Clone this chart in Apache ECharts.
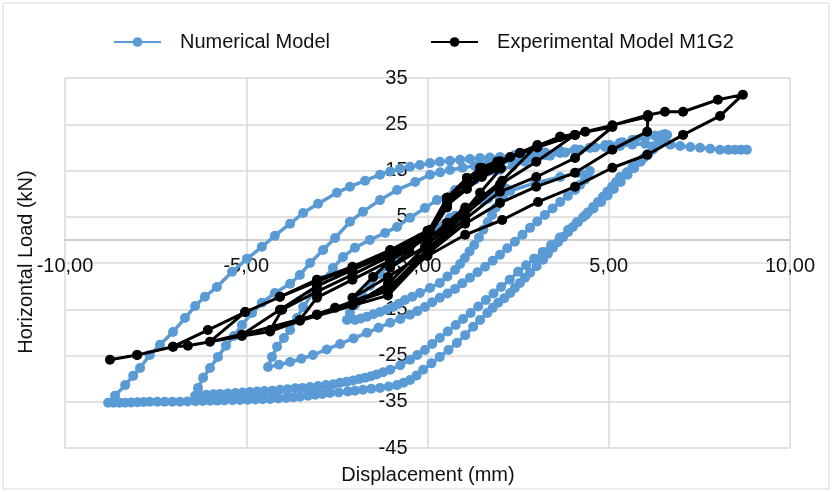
<!DOCTYPE html>
<html>
<head>
<meta charset="utf-8">
<script src="https://cdn.jsdelivr.net/npm/echarts@6/dist/echarts.min.js"></script>
<style>
  html, body { margin: 0; padding: 0; background: #fff; }
  #chart { width: 834px; height: 492px; }
</style>
</head>
<body>
<div id="chart"></div>
<script>
// displacement (mm), load (kN)
var numericalModel = [
  [0.00, 0.0], [0.21, 1.7], [0.48, 3.5], [0.76, 5.2], [1.09, 6.9], [1.45, 8.6], [1.86, 10.2], [2.19, 11.0],
  [2.10, 9.8], [2.00, 8.6], [1.89, 7.0], [1.78, 5.4], [1.66, 3.8], [1.54, 2.2], [1.42, 0.5], [1.29, -1.1],
  [1.16, -2.5], [1.03, -3.9], [0.90, -5.2], [0.76, -6.5], [0.55, -7.9], [0.34, -9.3], [0.07, -10.4],
  [-0.21, -11.5], [-0.42, -12.3], [-0.62, -13.0], [-0.79, -13.8], [-0.95, -14.5], [-1.13, -15.1],
  [-1.31, -15.6], [-1.49, -16.1], [-1.67, -16.6], [-1.84, -17.0], [-2.00, -17.3], [-2.22, -17.3],
  [-2.14, -15.8], [-2.00, -14.1], [-1.81, -12.1], [-1.59, -9.9], [-1.31, -7.4], [-0.98, -4.8], [-0.62, -2.2],
  [-0.21, 0.4], [0.21, 2.6], [0.62, 4.8], [1.12, 6.9], [1.67, 8.9], [2.28, 10.6], [2.97, 12.3], [3.66, 13.6],
  [4.16, 14.5], [4.48, 14.9],
  [4.42, 14.0], [4.34, 13.0], [4.21, 11.9], [4.07, 10.8], [3.87, 9.5], [3.66, 8.2], [3.45, 6.8], [3.24, 5.4],
  [3.03, 4.0], [2.83, 2.6], [2.62, 1.1], [2.41, -0.4], [2.20, -1.8], [2.00, -3.2], [1.80, -4.5], [1.59, -5.8],
  [1.38, -7.0], [1.17, -8.2], [0.96, -9.4], [0.76, -10.6], [0.55, -11.6], [0.34, -12.5], [0.13, -13.5],
  [-0.07, -14.5], [-0.28, -15.4], [-0.48, -16.2], [-0.75, -17.1], [-1.03, -17.9], [-1.35, -19.0],
  [-1.67, -20.1], [-2.04, -21.3], [-2.41, -22.5], [-2.78, -23.7], [-3.16, -24.9], [-3.48, -25.7],
  [-3.79, -26.4], [-4.10, -27.0], [-4.40, -27.5],
  [-4.29, -25.3], [-4.15, -23.1], [-3.96, -21.2], [-3.79, -19.5], [-3.60, -16.9], [-3.43, -14.5], [-3.16, -11.5],
  [-2.88, -8.6], [-2.61, -6.1], [-2.33, -3.7], [-2.00, -1.7], [-1.59, 0.0], [-1.17, 1.5], [-0.84, 2.8],
  [-0.48, 4.8], [-0.07, 6.9], [0.26, 8.6], [0.76, 10.8], [1.31, 13.0], [2.00, 15.1], [2.35, 16.0], [2.69, 16.9],
  [3.03, 17.6], [3.38, 18.2], [3.80, 18.9], [4.21, 19.5], [4.62, 20.0], [5.03, 20.5], [5.38, 21.1], [5.72, 21.6],
  [6.00, 22.1], [6.28, 22.5], [6.45, 22.6], [6.61, 22.7],
  [6.55, 22.2], [6.48, 21.6], [6.35, 20.5], [6.21, 19.5], [6.05, 18.2], [5.88, 16.9], [5.70, 15.5], [5.52, 14.1],
  [5.33, 12.5], [5.14, 11.0], [4.97, 9.6], [4.79, 8.2], [4.58, 6.8], [4.37, 5.4], [4.12, 3.8], [3.88, 2.2],
  [3.65, 0.5], [3.41, -1.1], [3.18, -2.6], [2.94, -4.1], [2.72, -5.5], [2.50, -6.9], [2.27, -8.6], [2.03, -10.2],
  [1.82, -11.6], [1.61, -13.0], [1.40, -14.4], [1.19, -15.8], [0.98, -17.1], [0.78, -18.4], [0.56, -19.8],
  [0.34, -21.2], [0.13, -22.5], [-0.07, -23.8], [-0.28, -24.9], [-0.48, -25.9], [-0.75, -27.1], [-1.03, -28.1],
  [-1.22, -28.6], [-1.40, -29.1], [-1.56, -29.5], [-1.72, -29.8], [-1.88, -30.1], [-2.05, -30.4], [-2.23, -30.7],
  [-2.41, -30.9], [-2.60, -31.2], [-2.80, -31.4], [-3.02, -31.6], [-3.24, -31.8], [-3.45, -32.0], [-3.65, -32.1],
  [-3.86, -32.3], [-4.07, -32.4], [-4.28, -32.6], [-4.50, -32.7], [-4.70, -32.8], [-4.90, -32.9], [-5.10, -33.0],
  [-5.30, -33.1], [-5.51, -33.2], [-5.72, -33.3], [-5.91, -33.4], [-6.10, -33.5], [-6.26, -33.6], [-6.41, -33.7],
  [-6.33, -32.0], [-6.19, -29.8], [-6.00, -27.7], [-5.78, -25.3], [-5.56, -22.9], [-5.34, -20.8], [-5.12, -18.4],
  [-4.84, -15.8], [-4.57, -13.6], [-4.21, -11.5], [-3.79, -9.5], [-3.52, -7.6], [-3.24, -5.0], [-2.88, -2.2],
  [-2.55, 0.4], [-2.14, 3.9], [-1.78, 6.1], [-1.31, 8.6], [-0.84, 10.8], [-0.34, 12.5], [0.07, 14.1],
  [0.35, 14.6], [0.62, 15.1], [0.97, 15.6], [1.31, 16.0], [1.65, 16.3], [2.00, 16.6], [2.41, 17.2], [2.83, 17.7],
  [3.25, 18.3], [3.66, 18.8], [4.07, 19.4], [4.48, 19.9], [4.90, 20.5], [5.31, 21.0], [5.65, 21.6], [6.00, 22.1],
  [6.28, 22.5], [6.55, 22.9],
  [6.48, 22.0], [6.41, 21.2], [6.25, 19.8], [6.10, 18.6], [5.95, 17.6], [5.80, 16.8], [5.65, 15.7], [5.50, 14.6],
  [5.31, 13.6], [5.20, 12.5], [5.09, 11.5], [4.96, 10.4], [4.84, 9.3], [4.70, 8.2], [4.57, 7.1], [4.43, 6.0],
  [4.29, 4.9], [4.15, 3.8], [4.01, 2.8], [3.88, 1.7], [3.74, 0.6], [3.60, -0.5], [3.46, -1.7], [3.32, -3.0],
  [3.19, -4.3], [3.01, -5.7], [2.83, -7.1], [2.69, -8.2], [2.55, -9.3], [2.41, -10.4], [2.28, -11.5],
  [2.12, -12.6], [1.95, -13.6], [1.80, -14.7], [1.65, -15.8], [1.45, -17.3], [1.26, -18.8], [1.04, -20.6],
  [0.81, -22.3], [0.58, -23.8], [0.34, -25.3], [0.11, -26.7], [-0.12, -28.1], [-0.30, -29.3], [-0.48, -30.3],
  [-0.66, -30.9], [-0.84, -31.4], [-1.07, -31.7], [-1.31, -32.0], [-1.55, -32.2], [-1.78, -32.4], [-2.00, -32.6],
  [-2.20, -32.8], [-2.45, -33.0], [-2.69, -33.1], [-2.90, -33.3], [-3.10, -33.5], [-3.30, -33.7], [-3.52, -33.9],
  [-3.70, -34.0], [-3.90, -34.2], [-4.12, -34.3], [-4.34, -34.4], [-4.55, -34.45], [-4.75, -34.5], [-4.96, -34.55],
  [-5.17, -34.6], [-5.38, -34.65], [-5.60, -34.7], [-5.80, -34.75], [-6.00, -34.8], [-6.20, -34.85], [-6.40, -34.9],
  [-6.62, -34.95], [-6.83, -35.0], [-7.04, -35.0], [-7.25, -35.0], [-7.45, -35.0], [-7.66, -35.0], [-7.83, -35.05],
  [-8.00, -35.1], [-8.17, -35.15], [-8.34, -35.2], [-8.50, -35.2], [-8.66, -35.2], [-8.81, -35.2],
  [-8.62, -33.7], [-8.34, -31.4], [-8.12, -29.4], [-7.93, -27.7], [-7.66, -24.9], [-7.38, -22.7], [-7.02, -19.9],
  [-6.69, -16.9], [-6.41, -14.3], [-6.14, -12.3], [-5.81, -10.2], [-5.39, -6.9], [-4.98, -4.1], [-4.57, -1.5],
  [-4.21, 0.9], [-3.79, 3.5], [-3.43, 5.8], [-3.02, 7.8], [-2.50, 10.2], [-2.14, 11.5], [-1.72, 12.8],
  [-1.31, 14.1], [-1.03, 14.8], [-0.76, 15.4], [-0.48, 15.8], [-0.21, 16.2], [0.07, 16.6], [0.34, 16.9],
  [0.62, 17.1], [0.90, 17.3], [1.17, 17.5], [1.45, 17.7], [1.72, 17.8], [2.00, 17.9],
  [2.40, 18.3], [2.83, 18.6], [3.25, 18.9], [3.66, 19.2], [4.07, 19.6], [4.48, 19.9], [4.90, 20.1], [5.31, 20.3],
  [5.65, 20.6], [6.00, 20.8], [6.41, 21.0], [6.70, 20.6], [6.97, 20.3], [7.25, 20.1], [7.52, 19.9], [7.80, 19.7],
  [8.07, 19.5], [8.30, 19.5], [8.48, 19.5], [8.65, 19.5], [8.81, 19.5]
];

var experimentalModel = [
  [0.00, 0.0], [0.54, 3.7], [1.04, 7.0], [0.50, 2.5], [-0.07, -1.5], [-1.03, -6.0], [-0.50, -2.5], [0.07, 2.2],
  [0.54, 7.5], [1.09, 11.0], [1.50, 13.6], [2.03, 15.5], [1.45, 10.2], [1.00, 6.0], [0.50, 2.0], [0.07, -2.2],
  [-1.09, -8.0], [-2.07, -12.5], [-1.50, -8.0], [-1.03, -4.5], [-0.50, -1.0], [0.00, 1.5],
  [0.54, 8.6], [1.09, 12.5], [2.00, 17.0], [3.03, 20.5], [2.06, 12.8], [1.04, 6.5], [0.00, -1.0], [-1.09, -9.5],
  [-2.07, -14.1], [-3.52, -17.3], [-3.05, -12.5], [-2.07, -8.6], [-1.03, -4.5], [0.00, 0.5],
  [0.54, 9.1], [1.45, 15.6], [2.28, 17.9], [3.03, 20.1], [4.07, 22.7], [3.00, 16.9], [2.00, 12.0], [1.04, 5.5],
  [0.00, -2.0], [-1.03, -10.2], [-2.55, -14.7], [-4.34, -19.5], [-4.01, -15.1], [-3.05, -11.2], [-2.07, -7.5],
  [-1.03, -3.5], [0.00, 1.0],
  [0.54, 8.0], [1.50, 14.0], [2.55, 18.8], [3.66, 22.3], [5.10, 24.4], [4.07, 17.7], [3.00, 13.6], [2.00, 10.4],
  [1.04, 4.5], [0.00, -2.5], [-1.09, -11.0], [-3.05, -16.2], [-5.12, -20.5], [-4.07, -15.1], [-3.05, -10.0],
  [-2.07, -6.5], [-1.03, -3.0], [0.00, 0.5],
  [0.54, 7.0], [1.09, 13.4], [1.92, 16.9], [3.03, 20.0], [4.35, 23.4], [6.08, 26.6], [6.06, 23.4], [5.10, 19.5],
  [4.07, 14.5], [3.00, 11.5], [2.00, 8.0], [1.04, 3.5], [0.00, -3.0], [-1.09, -12.0], [-3.52, -17.5],
  [-6.00, -22.0], [-5.03, -15.6], [-4.07, -12.3], [-3.05, -9.0], [-2.07, -6.0], [-1.03, -2.5], [0.00, 1.5],
  [0.54, 9.1], [1.09, 13.4], [1.50, 15.6], [2.55, 18.8], [3.66, 22.3], [4.07, 22.7], [5.10, 24.8], [6.08, 27.0],
  [6.55, 27.7], [7.05, 27.7], [8.01, 30.3], [8.70, 31.4],
  [8.07, 26.8], [7.05, 22.7], [6.06, 18.4], [5.10, 15.6], [4.07, 11.5], [3.05, 8.2], [2.06, 4.3], [1.04, 1.1],
  [0.00, -3.5], [-1.09, -10.2], [-2.07, -14.1], [-3.05, -16.2], [-4.34, -19.8], [-5.12, -20.8], [-6.61, -22.9],
  [-7.02, -23.1], [-8.01, -24.9], [-8.76, -25.9],
  [-8.01, -24.9], [-7.02, -23.1], [-6.06, -19.5], [-5.03, -15.6], [-4.07, -12.3], [-3.05, -8.6], [-2.07, -5.8],
  [-1.03, -2.2], [0.00, 2.0]
];

var seriesNames = ['Numerical Model', 'Experimental Model M1G2'];
var xTitle = 'Displacement (mm)';
var yTitle = 'Horizontal Load (kN)';

var font = "'Liberation Sans', Arial, sans-serif";
var chart = echarts.init(document.getElementById('chart'));

// axes cross at 0: move the x axis up to y = 0 and the y axis right to x = 0
var gridTop = 78, gridBottom = 44, gridLeft = 65, gridRight = 44;
var plotH = 492 - gridTop - gridBottom;
var plotW = 834 - gridLeft - gridRight;
var xAxisOffset = -plotH * (45 / 80);
var yAxisOffset = -plotW * (10 / 20);

var option = {
    animation: false,
    backgroundColor: '#fff',
    textStyle: { fontFamily: font },
    legend: {
        top: 27,
        left: 108,
        itemWidth: 47,
        itemHeight: 12,
        itemGap: 100,
        textStyle: { fontSize: 20, color: '#111', fontFamily: font, padding: [0, 0, 0, 14] },
        data: seriesNames
    },
    grid: { left: gridLeft, right: gridRight, top: gridTop, bottom: gridBottom },
    xAxis: {
        type: 'value',
        min: -10,
        max: 10,
        interval: 5,
        offset: xAxisOffset,
        axisLine: { onZero: false, lineStyle: { color: '#bfbfbf', width: 1.5 } },
        axisTick: { show: false },
        axisLabel: {
            margin: 17,
            fontSize: 20,
            color: '#111',
            fontFamily: font,
            formatter: function (v) {
                if (v === 0) return ',00';
                return v.toFixed(2).replace('.', ',');
            }
        },
        splitLine: { show: true, lineStyle: { color: '#d9d9d9', width: 1.5 } }
    },
    yAxis: {
        type: 'value',
        min: -45,
        max: 35,
        interval: 10,
        offset: yAxisOffset,
        axisLine: { show: false, onZero: false },
        axisTick: { show: false },
        axisLabel: { margin: 20, fontSize: 20, color: '#111', fontFamily: font },
        splitLine: { show: true, lineStyle: { color: '#d9d9d9', width: 1.5 } }
    },
    graphic: [
        {
            type: 'rect',
            shape: { x: 3, y: 3, width: 826, height: 486 },
            style: { fill: 'none', stroke: '#d9d9d9', lineWidth: 1 },
            silent: true
        },
        {
            type: 'text',
            x: 428, y: 475,
            style: { text: xTitle, font: '20px ' + font, fill: '#111', align: 'center', verticalAlign: 'middle' }
        },
        {
            type: 'text',
            x: 26, y: 262,
            rotation: Math.PI / 2,
            style: { text: yTitle, font: '20px ' + font, fill: '#111', align: 'center', verticalAlign: 'middle' }
        }
    ],
    series: [
        {
            name: seriesNames[0],
            type: 'line',
            data: numericalModel,
            symbol: 'circle',
            symbolSize: 10,
            showAllSymbol: true,
            lineStyle: { color: '#5b9bd5', width: 3.5 },
            itemStyle: { color: '#5b9bd5' },
            z: 2
        },
        {
            name: seriesNames[1],
            type: 'line',
            data: experimentalModel,
            symbol: 'circle',
            symbolSize: 10,
            showAllSymbol: true,
            lineStyle: { color: '#000', width: 3 },
            itemStyle: { color: '#000' },
            z: 3
        }
    ]
};

chart.setOption(option);
</script>
</body>
</html>
